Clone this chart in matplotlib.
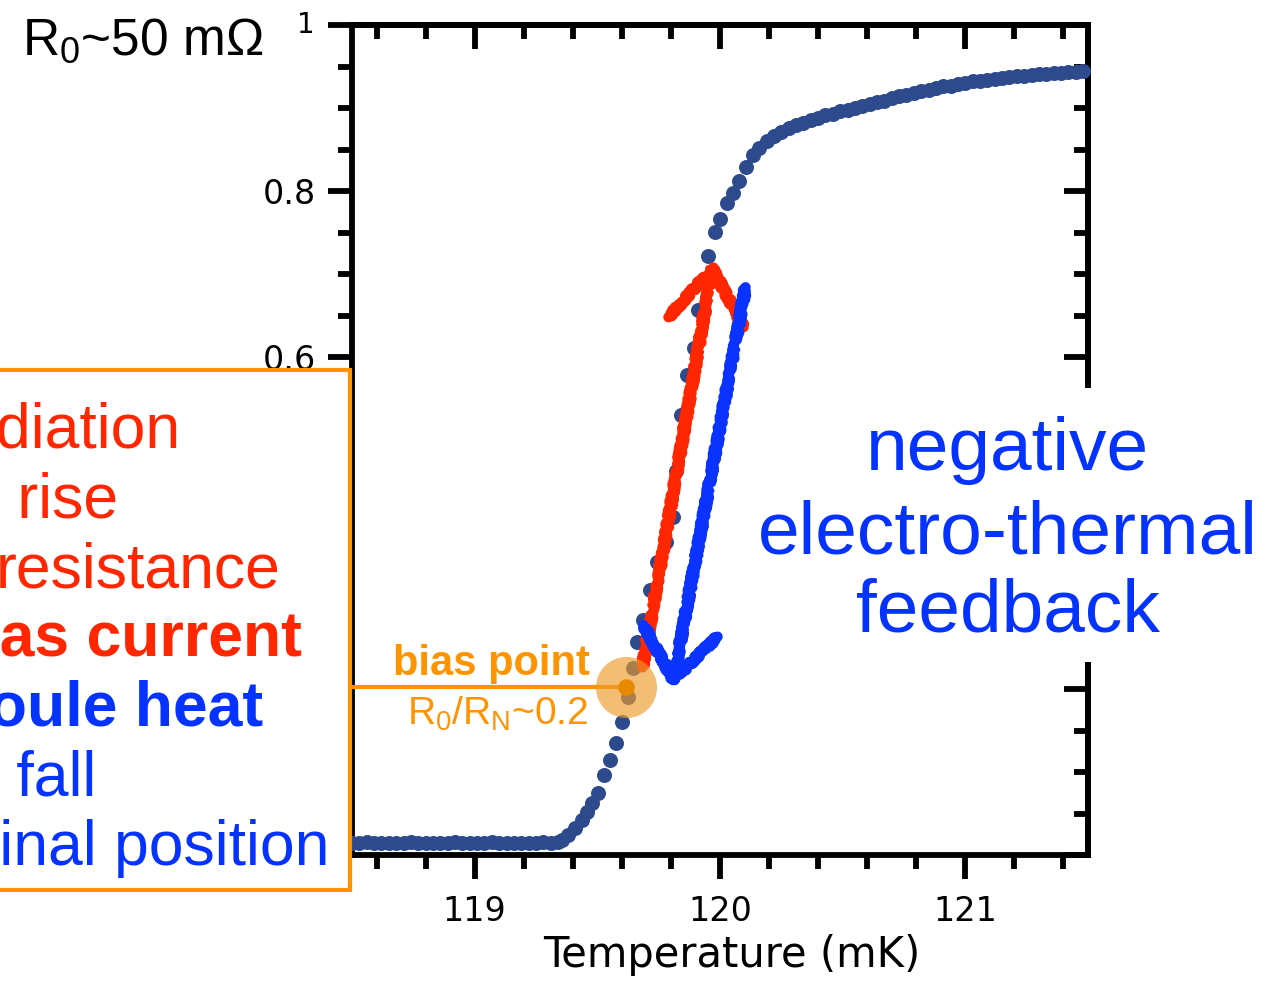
import matplotlib
matplotlib.use("Agg")
import matplotlib.pyplot as plt
from matplotlib.patches import Rectangle
from matplotlib.ticker import FixedLocator, MultipleLocator

plt.rcParams["mathtext.fontset"] = "custom"
plt.rcParams["mathtext.rm"] = "Liberation Sans"
plt.rcParams["mathtext.it"] = "Liberation Sans:italic"
plt.rcParams["mathtext.bf"] = "Liberation Sans:bold"
plt.rcParams["font.family"] = ["DejaVu Sans"]

# ---------------- data ----------------
temp_low = [118.50, 118.53, 118.56, 118.59, 118.62, 118.65, 118.68, 118.71,
            118.74, 118.77, 118.80, 118.83, 118.86, 118.89, 118.92, 118.95,
            118.98, 119.01, 119.04, 119.07, 119.10, 119.13, 119.16, 119.19,
            119.22, 119.25, 119.28, 119.31, 119.34]
res_low = [0.015, 0.015, 0.016, 0.015, 0.015, 0.014, 0.015, 0.015,
           0.016, 0.015, 0.015, 0.015, 0.014, 0.015, 0.016, 0.015,
           0.015, 0.015, 0.015, 0.016, 0.015, 0.015, 0.014, 0.015,
           0.015, 0.015, 0.016, 0.015, 0.016]

temp_trans = [119.357, 119.382, 119.410, 119.439, 119.459, 119.480, 119.504,
              119.529, 119.553, 119.578, 119.602, 119.627, 119.647, 119.663,
              119.688, 119.716, 119.745, 119.778, 119.810, 119.822, 119.839,
              119.867, 119.892, 119.912, 119.953, 119.978, 120.002, 120.027,
              120.051, 120.076, 120.104, 120.133]
res_trans = [0.018, 0.024, 0.033, 0.042, 0.052, 0.063, 0.075,
             0.096, 0.114, 0.135, 0.160, 0.190, 0.225, 0.257,
             0.283, 0.319, 0.353, 0.377, 0.407, 0.463, 0.530,
             0.578, 0.611, 0.657, 0.722, 0.751, 0.766, 0.786,
             0.798, 0.812, 0.829, 0.843]

temp_high = [120.16, 120.19, 120.22, 120.25, 120.28, 120.31, 120.34, 120.37,
             120.40, 120.43, 120.46, 120.49, 120.52, 120.55, 120.58, 120.61,
             120.64, 120.67, 120.70, 120.73, 120.76, 120.79, 120.82, 120.85,
             120.88, 120.91, 120.94, 120.97, 121.00, 121.03, 121.06, 121.09,
             121.12, 121.15, 121.18, 121.21, 121.24, 121.27, 121.30, 121.33,
             121.36, 121.39, 121.42, 121.45, 121.48]
res_high = [0.852, 0.860, 0.866, 0.871, 0.876, 0.879, 0.882, 0.885,
            0.888, 0.891, 0.893, 0.896, 0.898, 0.900, 0.902, 0.905,
            0.907, 0.909, 0.912, 0.914, 0.916, 0.918, 0.920, 0.922,
            0.924, 0.926, 0.927, 0.929, 0.930, 0.932, 0.933, 0.934,
            0.935, 0.936, 0.937, 0.938, 0.939, 0.940, 0.941, 0.941,
            0.942, 0.942, 0.943, 0.943, 0.944]

bias_T, bias_R = 119.618, 0.202

x_major = [119, 120, 121]
y_major = [0, 0.2, 0.4, 0.6, 0.8, 1.0]
y_labels = ["0", "0.2", "0.4", "0.6", "0.8", ""]

box_lines = ["Radiation", "T rise", "resistance", "bias current",
             "Joule heat", "T fall", "original position"]
box_colors = ["#FF2600", "#FF2600", "#FF2600", "#FF2600",
              "#0433FF", "#0433FF", "#0433FF"]
box_weights = ["normal", "normal", "normal", "bold", "bold", "normal", "normal"]
box_x = [-83, -37, -4, -56, -46, -38, -105]
box_y = [447, 517, 587, 655, 725, 795, 865]

netf_lines = ["negative", "electro-thermal", "feedback"]
netf_y = [470, 553, 632]

# arrows (data coords): shaft start, tip, two barbs
red_arrow = dict(tail=(119.684, 0.226), tip=(119.969, 0.707),
                 b1=(119.790, 0.648), b2=(120.096, 0.636))
blue_arrow = dict(tail=(120.104, 0.684), tip=(119.810, 0.211),
                  b1=(119.688, 0.277), b2=(119.990, 0.263))

# ---------------- figure ----------------
W, H = 1286, 983
fig = plt.figure(figsize=(W / 100, H / 100), dpi=100)


def fx(px):
    return px / W


def fy(py):
    return 1 - py / H


ax = fig.add_axes([fx(352), fy(855), (1088 - 352) / W, (855 - 25) / H])
dot_color = "#2C4A8C"
for t, r in ((temp_low, res_low), (temp_trans, res_trans), (temp_high, res_high)):
    ax.plot(t, r, "o", ms=10.8, color=dot_color, mec="none", zorder=3, clip_on=False)

ax.set_xlim(118.5, 121.5)
ax.set_ylim(0, 1)

lw_sp = 4.2
for s in ax.spines.values():
    s.set_linewidth(lw_sp)

ax.xaxis.set_major_locator(FixedLocator(x_major))
ax.xaxis.set_minor_locator(MultipleLocator(0.2))
ax.yaxis.set_major_locator(FixedLocator(y_major))
ax.yaxis.set_minor_locator(MultipleLocator(0.05))
ax.set_yticklabels(y_labels)
ax.tick_params(which="both", direction="out", top=False, right=False,
               width=lw_sp, labelsize=24, colors="black")
ax.tick_params(which="major", length=17)
ax.tick_params(which="minor", length=10)
ax.tick_params(axis="x", which="major", pad=12)
ax.tick_params(axis="y", which="major", pad=9)
ax.set_xlabel("Temperature (mK)", fontsize=30)
ax.xaxis.set_label_coords(0.516, -0.095)
ax.annotate("1", xy=(0, 1), xycoords="axes fraction", xytext=(-33, 0),
            textcoords="offset points", ha="center", va="center", fontsize=20)

secx = ax.secondary_xaxis("top")
secx.xaxis.set_major_locator(FixedLocator(x_major))
secx.xaxis.set_minor_locator(MultipleLocator(0.2))
secx.tick_params(which="both", direction="in", labeltop=False, width=lw_sp)
secx.tick_params(which="major", length=17)
secx.tick_params(which="minor", length=10)
secx.spines["top"].set_linewidth(lw_sp)

secy = ax.secondary_yaxis("right")
secy.yaxis.set_major_locator(FixedLocator(y_major))
secy.yaxis.set_minor_locator(MultipleLocator(0.05))
secy.tick_params(which="both", direction="in", labelright=False, width=lw_sp)
secy.tick_params(which="major", length=17)
secy.tick_params(which="minor", length=10)
secy.spines["right"].set_linewidth(lw_sp)


# hand-drawn arrows
def rough_arrow(a, color):
    segs = [(a["tail"], a["tip"]), (a["b1"], a["tip"]), (a["b2"], a["tip"])]
    for p0, p1 in segs:
        xs = [p0[0], p1[0]]
        ys = [p0[1], p1[1]]
        ln = ax.plot(xs, ys, color=color, lw=7.5, solid_capstyle="round", zorder=5)[0]
        ln.set_sketch_params(scale=2, length=6, randomness=20)
        ln2 = ax.plot(xs, ys, color=color, lw=4, solid_capstyle="round", zorder=5)[0]
        ln2.set_sketch_params(scale=3.5, length=3, randomness=40)


rough_arrow(red_arrow, "#FF2600")
rough_arrow(blue_arrow, "#0A33FF")

# bias point
orange = "#FF9300"
ax.plot([118.5, bias_T], [bias_R, bias_R], color=orange, lw=3, zorder=6)
ax.plot([bias_T], [bias_R], "o", ms=44, color="#EE9A2A", alpha=0.65, mec="none", zorder=6)
ax.plot([bias_T], [bias_R], "o", ms=12, color="#E88A00", mec="none", zorder=7)
fig.text(fx(590), fy(675), "bias point", color=orange, fontsize=30, fontweight="bold",
         family="Liberation Sans", ha="right", va="baseline")
fig.text(fx(588), fy(725), r"$\mathrm{R_0}$/$\mathrm{R_N}$~0.2", color=orange, fontsize=28,
         family="Liberation Sans", ha="right", va="baseline")

# top-left label
fig.text(fx(22), fy(55), r"$\mathrm{R_0}$~50 mΩ", color="black", fontsize=37,
         family="Liberation Sans", ha="left", va="baseline")

# left explanation box
fig.add_artist(Rectangle((fx(-20), fy(890)), fx(350) - fx(-20), fy(370) - fy(890),
                         transform=fig.transFigure, facecolor="white",
                         edgecolor=orange, lw=3, zorder=10))
for txt, c, w, x0, y0 in zip(box_lines, box_colors, box_weights, box_x, box_y):
    fig.text(fx(x0), fy(y0), txt, color=c, fontweight=w, fontsize=45,
             family="Liberation Sans", ha="left", va="baseline", zorder=11)

# right explanation
fig.add_artist(Rectangle((fx(748), fy(662)), fx(1275) - fx(748), fy(388) - fy(662),
                         transform=fig.transFigure, facecolor="white",
                         edgecolor="none", zorder=10))
for txt, y0 in zip(netf_lines, netf_y):
    fig.text(fx(1008), fy(y0), txt, color="#0433FF", fontsize=54,
             family="Liberation Sans", ha="center", va="baseline", zorder=11)

fig.savefig("out.png", dpi=100, facecolor="white")
